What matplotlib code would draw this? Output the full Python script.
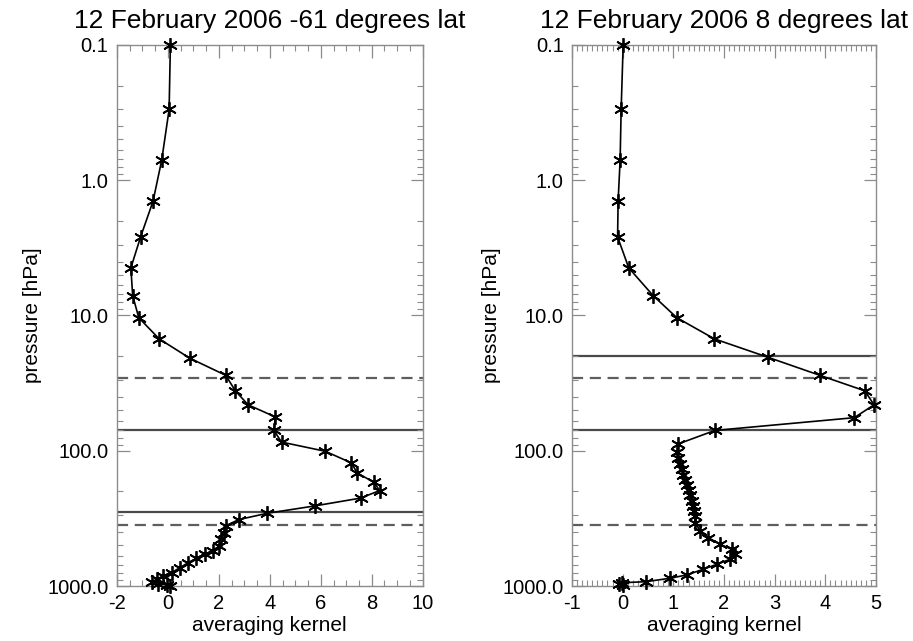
import numpy as np
import matplotlib
matplotlib.use('Agg')
import matplotlib.pyplot as plt
from matplotlib.ticker import FixedLocator, LogLocator, MultipleLocator, NullFormatter

plt.rcParams['font.family'] = ['Liberation Sans', 'DejaVu Sans']
plt.rcParams['axes.unicode_minus'] = False

# averaging kernel profiles
p_south = [0.1, 0.30, 0.71, 1.43, 2.63, 4.45, 7.13, 10.4, 14.9, 20.7, 27.7, 36.1, 45.8,
           56.3, 70.8, 86.3, 101, 123, 146, 171, 197, 224, 256, 290, 323, 359, 403,
           451, 506, 551, 582, 624, 672, 732, 797, 843, 892, 934, 962, 984, 1000]
ak_south = [0.1, 0.05, -0.24, -0.58, -1.07, -1.45, -1.38, -1.14, -0.34, 0.86, 2.27, 2.65, 3.15,
            4.22, 4.16, 4.46, 6.18, 7.2, 7.43, 8.08, 8.31, 7.56, 5.76, 3.9, 2.78, 2.27, 2.2,
            2.1, 2.01, 1.78, 1.45, 1.12, 0.8, 0.47, 0.15, -0.18, -0.44, -0.64, -0.38, -0.05, 0.08]

p_trop = [0.1, 0.30, 0.71, 1.43, 2.63, 4.45, 7.13, 10.4, 14.9, 20.4, 27.7, 36.1, 45.8,
          57, 70.8, 89, 103, 114, 125, 137, 150, 164, 179, 195, 213, 234, 257, 280, 305,
          340, 391, 439, 491, 535, 582, 634, 691, 752, 829, 877, 929, 946, 962, 985]
ak_trop = [0.01, -0.03, -0.05, -0.09, -0.1, 0.12, 0.6, 1.07, 1.81, 2.87, 3.89, 4.78, 4.96,
           4.57, 1.82, 1.1, 1.07, 1.1, 1.13, 1.17, 1.2, 1.23, 1.26, 1.3, 1.33, 1.36, 1.39, 1.41, 1.42,
           1.43, 1.53, 1.69, 1.92, 2.15, 2.22, 2.12, 1.86, 1.59, 1.26, 0.93, 0.46, -0.02, -0.07, 0.0]

# reference levels: (pressure, style)
lines_south = [(29.0, '--'), (70.0, '-'), (286.0, '-'), (354.0, '--')]
lines_trop = [(20.0, '-'), (29.0, '--'), (70.0, '-'), (354.0, '--')]

titles = ['12 February 2006 -61 degrees lat', '12 February 2006 8 degrees lat']
ytick_vals = [0.1, 1.0, 10.0, 100.0, 1000.0]
ytick_labels = ['0.1', '1.0', '10.0', '100.0', '1000.0']

fig = plt.figure(figsize=(9.13, 6.41), dpi=100)
ax1 = fig.add_axes([0.128, 0.0858, 0.335, 0.8442])
ax2 = fig.add_axes([0.6265, 0.0858, 0.333, 0.8442])

frame = '#8c8c8c'
star = (6, 2, 0)

panels = [
    (ax1, p_south, ak_south, lines_south, (-2, 10), 2, 0.5, titles[0], 4),
    (ax2, p_trop, ak_trop, lines_trop, (-1, 5), 1, 0.1, titles[1], 1),
]

for ax, p, ak, hl, xl, xmaj, xmin, title, lpad in panels:
    for lev, ls in hl:
        ax.axhline(lev, color='#4a4a4a' if ls == '-' else '#5e5e5e', lw=1.6, ls=ls,
                   dashes=(5, 3) if ls == '--' else (None, None), zorder=1)
    ax.plot(ak, p, color='black', lw=1.2, marker=star, ms=10.5, mew=1.3, zorder=3, clip_on=False)
    ax.set_yscale('log')
    ax.set_ylim(1000, 0.1)
    ax.set_xlim(*xl)
    ax.yaxis.set_major_locator(FixedLocator(ytick_vals))
    ax.set_yticklabels(ytick_labels)
    ax.yaxis.set_minor_locator(LogLocator(base=10, subs=np.arange(2, 10)))
    ax.yaxis.set_minor_formatter(NullFormatter())
    ax.xaxis.set_major_locator(MultipleLocator(xmaj))
    ax.xaxis.set_minor_locator(MultipleLocator(xmin))
    ax.tick_params(which='both', direction='in', top=True, right=True, color=frame,
                   labelsize=14.5, pad=6)
    ax.tick_params(which='major', length=9, width=0.9)
    ax.tick_params(which='minor', length=4.5, width=0.8)
    for s in ax.spines.values():
        s.set_color(frame)
        s.set_linewidth(1.0)
    ax.set_xlabel('averaging kernel', fontsize=15, labelpad=2)
    ax.set_ylabel('pressure [hPa]', fontsize=15, labelpad=lpad)
    ax.set_title(title, fontsize=19, pad=12)

fig.savefig('out.png', dpi=100)
